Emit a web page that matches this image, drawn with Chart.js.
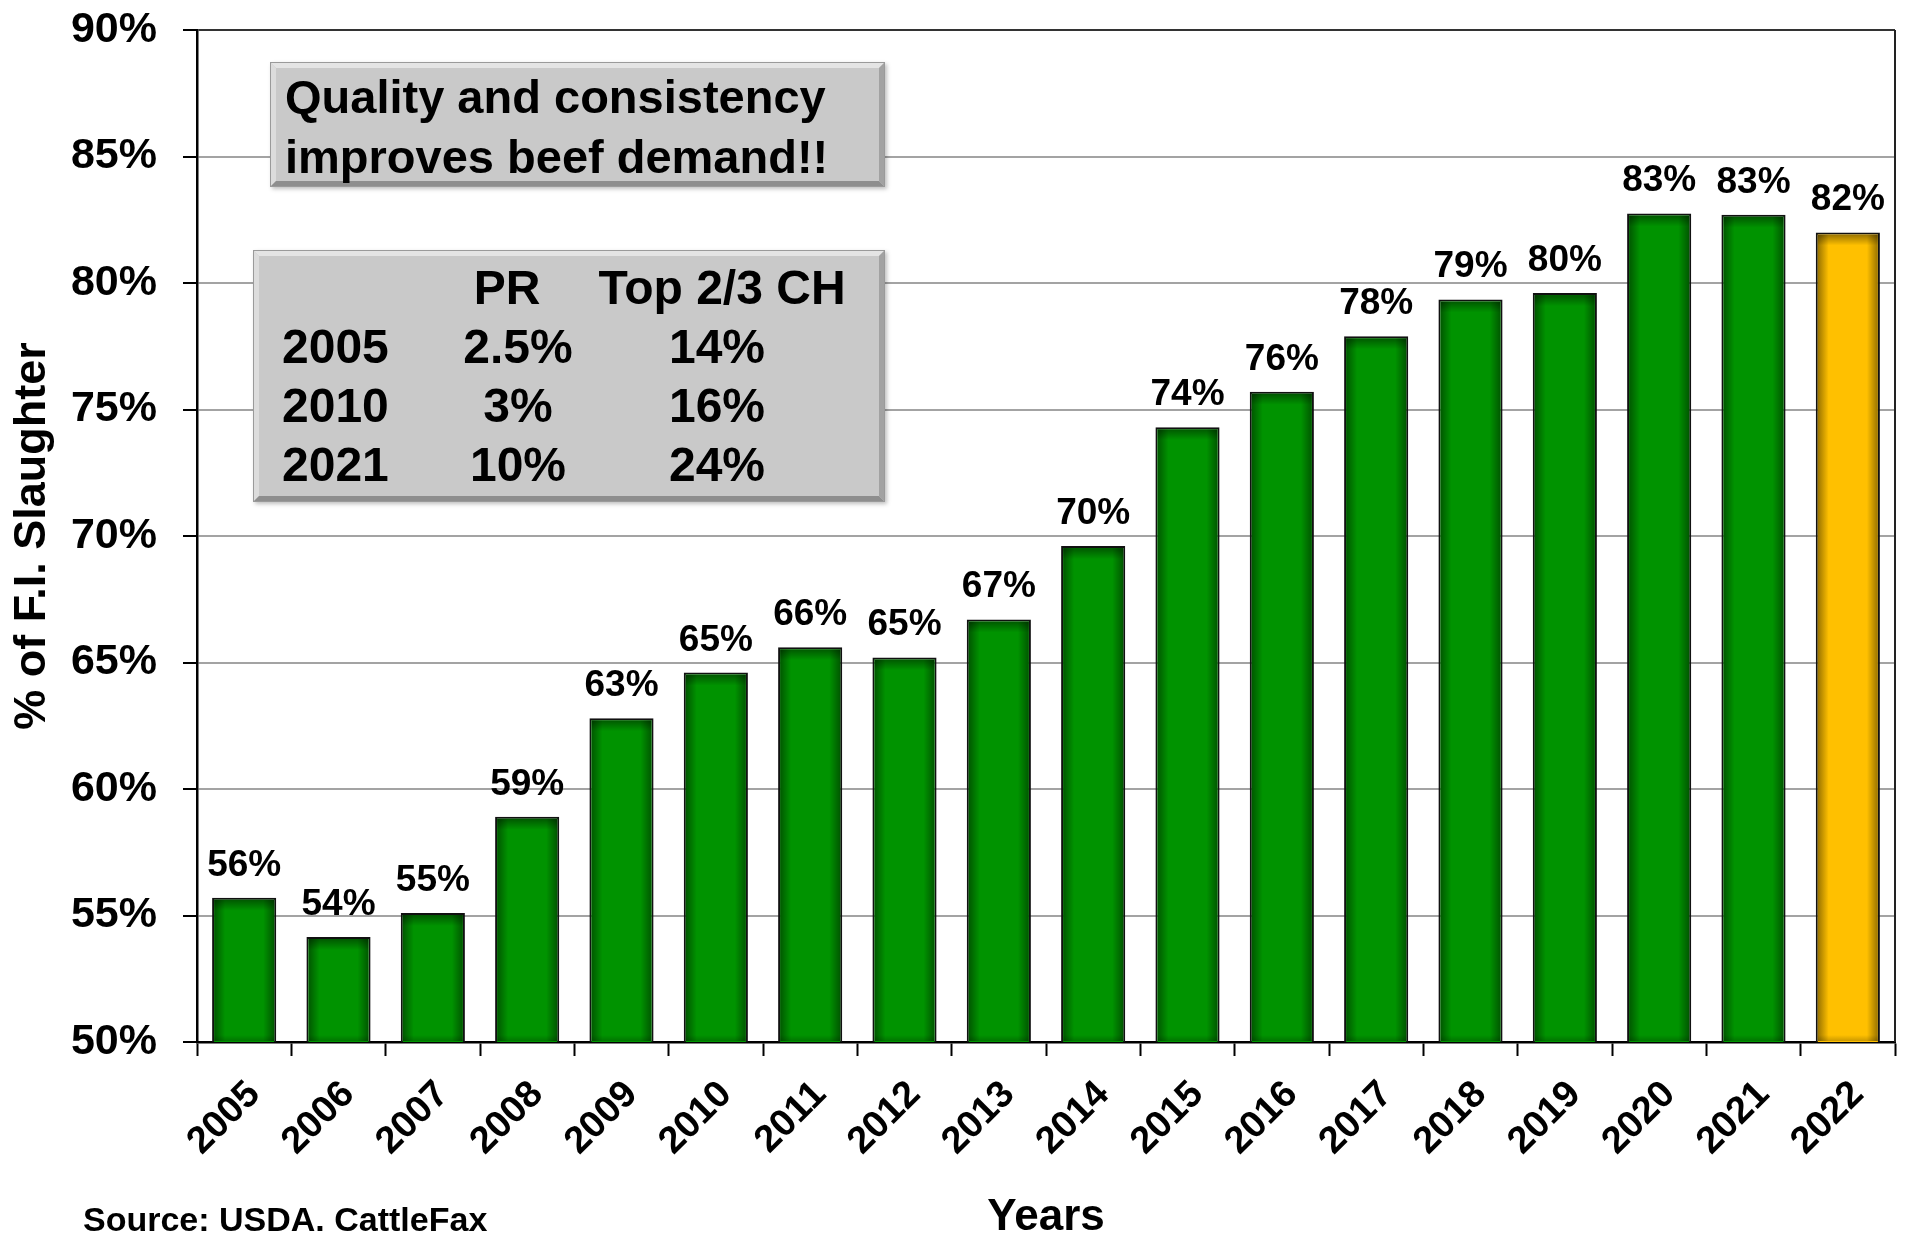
<!DOCTYPE html>
<html><head><meta charset="utf-8">
<script src="https://cdn.jsdelivr.net/npm/chart.js@4.4.1/dist/chart.umd.min.js"></script>
<style>html,body{margin:0;padding:0;background:#fff;}canvas{display:block;}</style>
</head><body>
<canvas id="c" width="1907" height="1235"></canvas>
<script>
// ---- data ----
const years = ['2005','2006','2007','2008','2009','2010','2011','2012','2013','2014','2015','2016','2017','2018','2019','2020','2021','2022'];
const shares = [55.7, 54.15, 55.1, 58.9, 62.8, 64.6, 65.6, 65.2, 66.7, 69.6, 74.3, 75.7, 77.9, 79.35, 79.6, 82.75, 82.7, 82.0];
const yMin = 50, yMax = 90, yStep = 5;
const noteLines = ['Quality and consistency', 'improves beef demand!!'];
const tableHeader = ['PR', 'Top 2/3 CH'];
const tableYears = ['2005', '2010', '2021'];
const tablePR = ['2.5%', '3%', '10%'];
const tableCH = ['14%', '16%', '24%'];
const yAxisTitle = '% of F.I. Slaughter';
const xAxisTitle = 'Years';
const sourceNote = 'Source: USDA. CattleFax';

// ---- style ----
const FONT = '"Liberation Sans", Arial, Helvetica, sans-serif';
const GREEN = '#009300';
const YELLOW = '#FFC000';
const highlightIndex = years.length - 1;

function bevelBox(ctx, x, y, w, h) {
  const b = 6;
  ctx.save();
  ctx.shadowColor = 'rgba(0,0,0,0.25)';
  ctx.shadowBlur = 4; ctx.shadowOffsetX = 2; ctx.shadowOffsetY = 2;
  ctx.fillStyle = '#c9c9c9';
  ctx.fillRect(x, y, w, h);
  ctx.restore();
  ctx.save();
  ctx.fillStyle = '#e4e4e4';
  ctx.beginPath(); ctx.moveTo(x, y); ctx.lineTo(x + w, y); ctx.lineTo(x + w - b, y + b); ctx.lineTo(x + b, y + b); ctx.closePath(); ctx.fill();
  ctx.fillStyle = '#dcdcdc';
  ctx.beginPath(); ctx.moveTo(x, y); ctx.lineTo(x + b, y + b); ctx.lineTo(x + b, y + h - b); ctx.lineTo(x, y + h); ctx.closePath(); ctx.fill();
  ctx.fillStyle = '#8e8e8e';
  ctx.beginPath(); ctx.moveTo(x, y + h); ctx.lineTo(x + b, y + h - b); ctx.lineTo(x + w - b, y + h - b); ctx.lineTo(x + w, y + h); ctx.closePath(); ctx.fill();
  ctx.fillStyle = '#a2a2a2';
  ctx.beginPath(); ctx.moveTo(x + w, y); ctx.lineTo(x + w, y + h); ctx.lineTo(x + w - b, y + h - b); ctx.lineTo(x + w - b, y + b); ctx.closePath(); ctx.fill();
  ctx.strokeStyle = '#9a9a9a'; ctx.lineWidth = 1;
  ctx.strokeRect(x + 0.5, y + 0.5, w - 1, h - 1);
  ctx.restore();
}

function edgeShade(ctx, x0, y0, x1, y1, rx, ry, rw, rh, alpha) {
  const gr = ctx.createLinearGradient(x0, y0, x1, y1);
  gr.addColorStop(0, 'rgba(0,0,0,' + alpha + ')');
  gr.addColorStop(1, 'rgba(0,0,0,0)');
  ctx.fillStyle = gr;
  ctx.fillRect(rx, ry, rw, rh);
}

const decorPlugin = {
  id: 'decor',
  afterDatasetsDraw(chart) {
    const ctx = chart.ctx;
    const area = chart.chartArea;
    const meta = chart.getDatasetMeta(0);
    const g = 11;
    meta.data.forEach((bar) => {
      const l = bar.x - bar.width / 2 + 2, r = bar.x + bar.width / 2 - 2;
      const t = Math.min(bar.y, bar.base) + 2;
      const btm = Math.min(Math.max(bar.y, bar.base), area.bottom) - 1;
      const w = r - l, h = btm - t;
      ctx.save();
      ctx.beginPath(); ctx.rect(l, t, w, h); ctx.clip();
      edgeShade(ctx, l, 0, l + g, 0, l, t, g, h, 0.4);
      edgeShade(ctx, r, 0, r - g, 0, r - g, t, g, h, 0.4);
      edgeShade(ctx, 0, t, 0, t + g, l, t, w, g, 0.4);
      edgeShade(ctx, 0, btm, 0, btm - 6, l, btm - 6, w, 6, 0.2);
      ctx.restore();
    });
    ctx.save();
    ctx.font = 'bold 37px ' + FONT;
    ctx.fillStyle = '#000';
    ctx.textAlign = 'center';
    ctx.textBaseline = 'alphabetic';
    meta.data.forEach((bar, i) => {
      ctx.fillText(Math.round(shares[i]) + '%', bar.x, bar.y - 22);
    });
    ctx.restore();
  },
  afterDraw(chart) {
    const ctx = chart.ctx;
    const a = chart.chartArea;
    ctx.save();
    ctx.strokeStyle = '#222'; ctx.lineWidth = 2;
    ctx.beginPath(); ctx.moveTo(a.right, a.top); ctx.lineTo(a.right, a.bottom); ctx.stroke();
    ctx.restore();

    bevelBox(ctx, 270, 62, 615, 125);
    ctx.save();
    ctx.fillStyle = '#000';
    ctx.font = 'bold 47px ' + FONT;
    ctx.textAlign = 'left'; ctx.textBaseline = 'alphabetic';
    ctx.fillText(noteLines[0], 285, 113);
    ctx.fillText(noteLines[1], 285, 173);
    ctx.restore();

    bevelBox(ctx, 253, 250, 632, 252);
    ctx.save();
    ctx.fillStyle = '#000';
    ctx.font = 'bold 48px ' + FONT;
    ctx.textBaseline = 'alphabetic';
    ctx.textAlign = 'center';
    ctx.fillText(tableHeader[0], 507, 304);
    ctx.fillText(tableHeader[1], 722, 304);
    const rowY = [363, 422, 481];
    tableYears.forEach((yr, i) => {
      ctx.textAlign = 'left';
      ctx.fillText(yr, 282, rowY[i]);
      ctx.textAlign = 'center';
      ctx.fillText(tablePR[i], 518, rowY[i]);
      ctx.fillText(tableCH[i], 717, rowY[i]);
    });
    ctx.restore();

    ctx.save();
    ctx.fillStyle = '#000';
    ctx.font = 'bold 34px ' + FONT;
    ctx.textAlign = 'left'; ctx.textBaseline = 'alphabetic';
    ctx.fillText(sourceNote, 83, 1231);
    ctx.restore();
  }
};

new Chart(document.getElementById('c'), {
  type: 'bar',
  data: {
    labels: years,
    datasets: [{
      data: shares,
      backgroundColor: (c) => c.dataIndex === highlightIndex ? YELLOW : GREEN,
      borderColor: '#111',
      borderWidth: 2,
      borderSkipped: 'start',
      categoryPercentage: 1,
      barPercentage: 0.68
    }]
  },
  options: {
    responsive: false,
    devicePixelRatio: 1,
    animation: false,
    layout: { padding: { left: 0, right: 12, top: 30, bottom: 0 } },
    plugins: { legend: { display: false }, tooltip: { enabled: false } },
    scales: {
      x: {
        offset: true,
        grid: { display: true, drawOnChartArea: false, drawTicks: true, tickLength: 14, tickColor: '#000', tickWidth: 2, offset: true },
        border: { display: true, color: '#000', width: 2.5 },
        ticks: { color: '#000', font: { family: FONT, size: 38, weight: 'bold', lineHeight: 1 }, maxRotation: 45, minRotation: 45, padding: 19, labelOffset: 10, autoSkip: false },
        title: { display: true, text: xAxisTitle, color: '#000', font: { family: FONT, size: 44, weight: 'bold', lineHeight: 0.8 }, padding: { top: 0, bottom: 0 } },
        afterFit: (s) => { s.height = 193; s.paddingLeft = 0; s.paddingRight = 0; }
      },
      y: {
        min: yMin, max: yMax,
        ticks: { stepSize: yStep, color: '#000', padding: 26, font: { family: FONT, size: 43, weight: 'bold', lineHeight: 1 }, callback: (v) => v + '%' },
        grid: { color: (c) => c.tick && c.tick.value === yMax ? '#333' : '#a3a3a3', lineWidth: 2, tickLength: 14, tickColor: '#000', tickWidth: 2 },
        border: { display: true, color: '#000', width: 2.5 },
        title: { display: true, text: yAxisTitle, color: '#000', font: { family: FONT, size: 45, weight: 'bold', lineHeight: 1 }, padding: { top: 10, bottom: 0 } },
        afterFit: (s) => { s.width = 197; s.paddingTop = 0; s.paddingBottom = 0; }
      }
    }
  },
  plugins: [decorPlugin]
});
</script>
</body></html>
